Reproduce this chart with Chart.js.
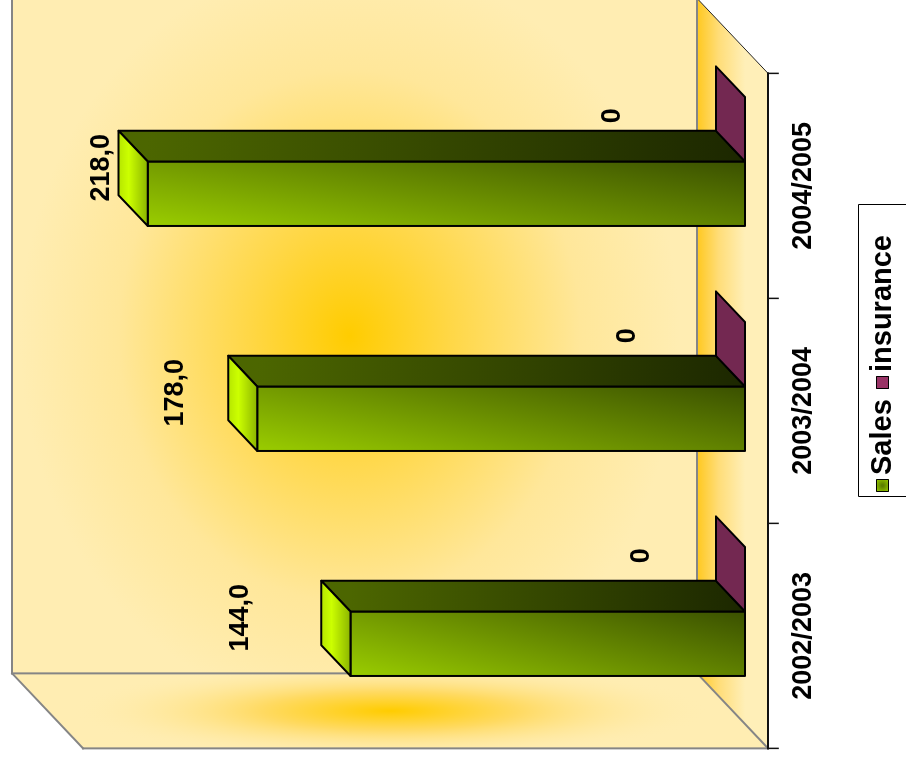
<!DOCTYPE html>
<html>
<head>
<meta charset="utf-8">
<script src="https://cdn.jsdelivr.net/npm/chart.js@4.4.1/dist/chart.umd.min.js"></script>
<style>
  html, body { margin: 0; padding: 0; background: #fff; overflow: hidden; width: 906px; height: 758px; }
  /* chart is laid out upright, then turned a quarter to the left */
  #wrap { position: absolute; left: 0; top: 0; width: 758px; height: 906px;
          transform-origin: 0 0; transform: translateY(758px) rotate(-90deg); }
</style>
</head>
<body>
<div id="wrap"><canvas id="c" width="758" height="906"></canvas></div>
<script>
// ===== data =====
const categories = ['2002/2003', '2003/2004', '2004/2005'];
const seriesNames = ['Sales', 'insurance'];
const salesValues = [144, 178, 218];
const insuranceValues = [0, 0, 0];
const salesLabels = ['144,0', '178,0', '218,0'];
const insuranceLabels = ['0', '0', '0'];
const valueMax = 250;

// ===== style =====
const FONT = '"Liberation Sans", Arial, sans-serif';
const DEPTH = { du: 75, dv: -71 };   // full floor depth, front -> back
const FRONT_T = 0.325;               // bar front plane, as part of depth
const BAR_T = 0.41;                  // bar depth, as part of depth
const GRAY = '#858585';

// label placement per series (Excel's 3D labels drift with value and category)
const labelPos = [
  { k: 0.542, off: -293, step: -14.5, du: 26, duStep: 0 },
  { k: 0.542, off: -106, step: -14.5, du: 23.5, duStep: -5 }
];

function poly(ctx, pts, fill, stroke, lw) {
  ctx.beginPath();
  pts.forEach((p, i) => i ? ctx.lineTo(p[0], p[1]) : ctx.moveTo(p[0], p[1]));
  ctx.closePath();
  if (fill) { ctx.fillStyle = fill; ctx.fill(); }
  if (stroke) { ctx.strokeStyle = stroke; ctx.lineWidth = lw || 1; ctx.stroke(); }
}

function line(ctx, x1, y1, x2, y2, color, lw) {
  ctx.beginPath();
  ctx.moveTo(x1, y1); ctx.lineTo(x2, y2);
  ctx.strokeStyle = color; ctx.lineWidth = lw; ctx.stroke();
}

// gradient with p = wa*(u-u0)/W + wb*(v-v0)/L
function skewGrad(ctx, u0, v0, W, L, wa, wb, stops) {
  const a = wa / W, b = wb / L, n = a * a + b * b;
  const g = ctx.createLinearGradient(u0, v0, u0 + a / n, v0 + b / n);
  stops.forEach(s => g.addColorStop(s[0], s[1]));
  return g;
}

// ===== walls + floor =====
const wallsPlugin = {
  id: 'walls',
  beforeDatasetsDraw(chart) {
    const ctx = chart.ctx, a = chart.chartArea, ys = chart.scales.y;
    const v0 = ys.getPixelForValue(0), vMax = ys.getPixelForValue(valueMax);
    const fu = -FRONT_T * DEPTH.du, fv = -FRONT_T * DEPTH.dv;
    const bu = (1 - FRONT_T) * DEPTH.du, bv = (1 - FRONT_T) * DEPTH.dv;

    const wL = a.left + bu, wR = a.right + bu, wT = vMax + bv, wB = v0 + bv;
    const fL = a.left + fu, fR = a.right + fu, fB = v0 + fv, fT = vMax + fv;
    ctx.save();

    // back wall
    poly(ctx, [[wL, wT], [wR + 10, wT], [wR + 10, wB], [wL, wB]], '#FFEDB2');
    ctx.save();
    ctx.beginPath(); ctx.rect(wL, wT, wR + 10 - wL, wB - wT); ctx.clip();
    const cu = (wL + wR) / 2, cv = (wT + wB) / 2 - 5;
    ctx.translate(cu, cv); ctx.scale(1.15, 1);
    let g = ctx.createRadialGradient(0, 0, 0, 0, 0, 330);
    g.addColorStop(0, '#FFCC00');
    g.addColorStop(0.3, '#FFD745');
    g.addColorStop(0.7, '#FFE79A');
    g.addColorStop(1, '#FFEDB2');
    ctx.fillStyle = g;
    ctx.fillRect(-400, -400, 800, 800);
    ctx.restore();

    // side wall
    const side = [[wL, wT], [wL, wB], [fL, fB], [fL, fT]];
    poly(ctx, side, '#FFEDB2');
    ctx.save();
    poly(ctx, side); ctx.clip();
    ctx.translate((wL + fL) / 2, 390); ctx.scale(0.15, 1);
    g = ctx.createRadialGradient(0, 0, 0, 0, 0, 320);
    g.addColorStop(0, '#FFCC00');
    g.addColorStop(0.4, '#FFDA62');
    g.addColorStop(1, 'rgba(255,237,178,0)');
    ctx.fillStyle = g;
    ctx.fillRect(-800, -500, 1600, 1000);
    ctx.restore();

    // floor
    g = ctx.createLinearGradient(0, wB, 0, wB + 48);
    g.addColorStop(0, '#FFC81F');
    g.addColorStop(0.45, '#FFDD78');
    g.addColorStop(1, '#FFEFB8');
    poly(ctx, [[wL, wB], [wR, wB], [fR, fB], [fL, fB]], g);

    // edges
    ctx.lineCap = 'square';
    line(ctx, wL, wT, wR + 10, wT, GRAY, 2);
    line(ctx, wL, wT, wL, wB, GRAY, 2);
    line(ctx, wL, wB, wR + 10, wB, GRAY, 2);
    line(ctx, wL, wT, fL, fT, GRAY, 2);
    line(ctx, fL, fT, fL, fB, GRAY, 2);
    line(ctx, wL, wB, fL, fB, GRAY, 2);
    line(ctx, wR, wB, fR, fB, '#222', 1);

    // category axis
    line(ctx, fL, fB, fR, fB, '#111', 2);
    const band = (a.right - a.left) / categories.length;
    for (let i = 0; i <= categories.length; i++) {
      const u = fL + band * i;
      line(ctx, u, fB, u, fB + 10, '#111', 1.5);
    }
    ctx.restore();
  }
};

// ===== 3D bars, labels, legend =====
const barsPlugin = {
  id: 'bars3d',
  afterDatasetsDraw(chart) {
    const ctx = chart.ctx, xs = chart.scales.x, ys = chart.scales.y;
    const du = BAR_T * DEPTH.du, dv = BAR_T * DEPTH.dv;
    ctx.save();
    ctx.lineJoin = 'round';

    chart.data.datasets.forEach((ds, di) => {
      chart.getDatasetMeta(di).data.forEach((bar, i) => {
        const uL = bar.x - bar.width / 2, uR = bar.x + bar.width / 2;
        const vBase = bar.base, vTop = Math.min(bar.y, bar.base);
        const L = vBase - vTop;
        if (L > 0.5) {
          // front face
          const fg = skewGrad(ctx, uL, vTop, uR - uL, L, 0.4, 0.6,
            [[0, '#9ACD00'], [0.5, '#6A8E00'], [1, '#3A5000']]);
          poly(ctx, [[uL, vTop], [uR, vTop], [uR, vBase], [uL, vBase]], fg, '#000', 2);
          // right side face
          const sg = ctx.createLinearGradient(0, vTop, 0, vBase);
          sg.addColorStop(0, '#4C6600');
          sg.addColorStop(1, '#1C2700');
          poly(ctx, [[uR, vTop], [uR, vBase], [uR + du, vBase + dv], [uR + du, vTop + dv]], sg, '#000', 2);
          // top face
          const tg = ctx.createLinearGradient(0, vTop + dv, 0, vTop);
          tg.addColorStop(0, '#B6E600');
          tg.addColorStop(0.35, '#CCFF00');
          tg.addColorStop(1, '#8CB500');
          poly(ctx, [[uL, vTop], [uR, vTop], [uR + du, vTop + dv], [uL + du, vTop + dv]], tg, '#000', 2);
        } else {
          poly(ctx, [[uL, vTop], [uR, vTop], [uR + du, vTop + dv], [uL + du, vTop + dv]], '#732851', '#000', 2);
        }
      });
    });

    // data labels
    const texts = [salesLabels, insuranceLabels];
    ctx.fillStyle = '#000';
    ctx.font = 'bold 27px ' + FONT;
    ctx.textAlign = 'center';
    ctx.textBaseline = 'alphabetic';
    chart.data.datasets.forEach((ds, di) => {
      const lp = labelPos[di];
      chart.getDatasetMeta(di).data.forEach((bar, i) => {
        const u = bar.x + lp.du + lp.duStep * i;
        const v = ys.getPixelForValue(ds.data[i] * lp.k) + lp.off + lp.step * i;
        ctx.fillText(texts[di][i], u, v + 10);
      });
    });

    // category labels at the front edge of the floor
    const fu = -FRONT_T * DEPTH.du, fv = -FRONT_T * DEPTH.dv;
    const axisV = ys.getPixelForValue(0) + fv;
    categories.forEach((c, i) => {
      ctx.fillText(c, xs.getPixelForValue(i) + fu, axisV + 43);
    });

    // legend
    const lx = 261, ly = 858;
    ctx.strokeStyle = '#000'; ctx.lineWidth = 1;
    ctx.strokeRect(lx + 0.5, ly + 0.5, 292, 80);
    ctx.font = 'bold 29px ' + FONT;
    ctx.textAlign = 'left';
    const sw = [['#8FC000', '#5E8000'], ['#993366', '#993366']];
    const swU = [lx + 5, lx + 108];
    seriesNames.forEach((name, i) => {
      const u = swU[i];
      const g = ctx.createRadialGradient(u + 6.5, ly + 24.5, 1, u + 6.5, ly + 24.5, 7);
      g.addColorStop(0, sw[i][1]); g.addColorStop(1, sw[i][0]);
      ctx.fillStyle = g;
      ctx.fillRect(u, ly + 18, 13, 13);
      ctx.strokeRect(u + 0.5, ly + 18.5, 12, 12);
      ctx.fillStyle = '#000';
      ctx.fillText(name, u + 17, ly + 33);
    });
    ctx.restore();
  }
};

new Chart(document.getElementById('c'), {
  type: 'bar',
  data: {
    labels: categories,
    datasets: [
      { label: seriesNames[0], data: salesValues, backgroundColor: 'rgba(0,0,0,0)', borderWidth: 0 },
      { label: seriesNames[1], data: insuranceValues, backgroundColor: 'rgba(0,0,0,0)', borderWidth: 0 }
    ]
  },
  options: {
    responsive: false,
    animation: false,
    layout: { padding: { left: 34, right: 49, top: 60, bottom: 161 } },
    datasets: { bar: { categoryPercentage: 0.573, barPercentage: 1 } },
    plugins: { legend: { display: false }, tooltip: { enabled: false } },
    scales: {
      x: { display: false },
      y: { display: false, min: 0, max: valueMax }
    }
  },
  plugins: [wallsPlugin, barsPlugin]
});
</script>
</body>
</html>
